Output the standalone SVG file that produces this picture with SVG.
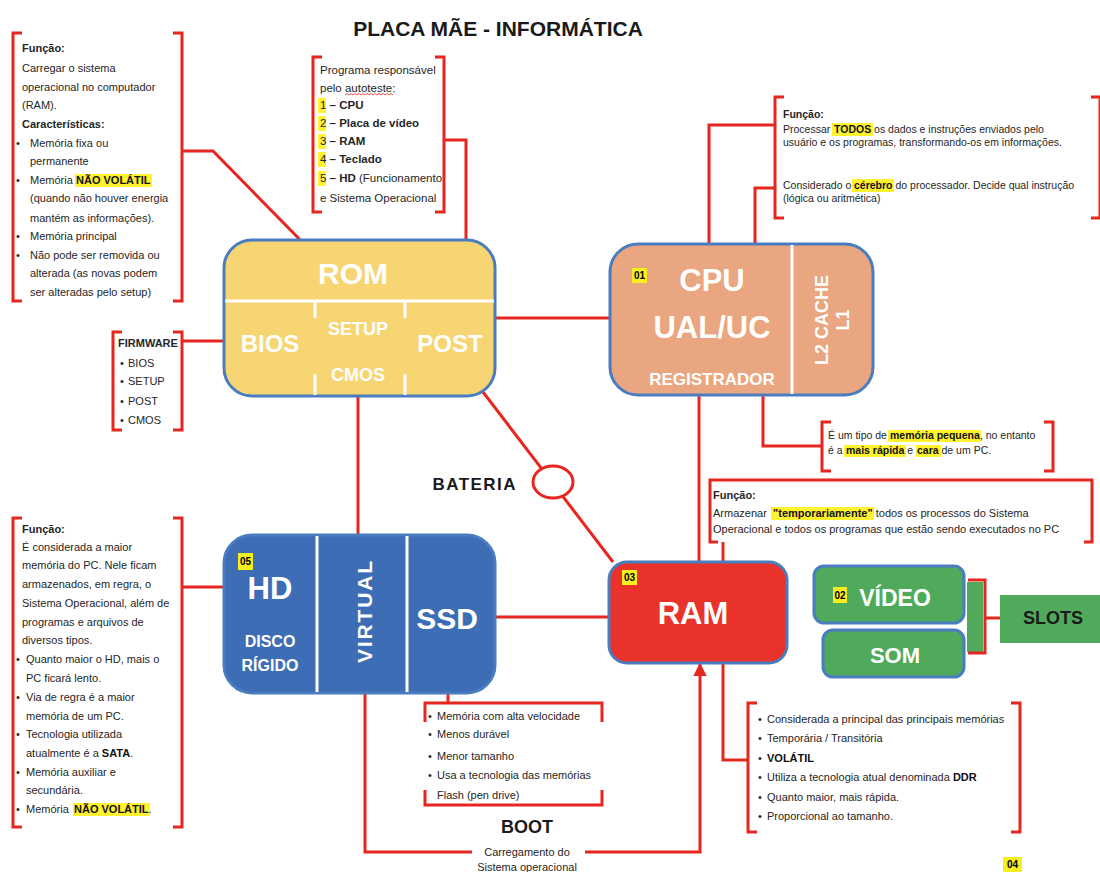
<svg xmlns="http://www.w3.org/2000/svg" width="1100" height="872" viewBox="0 0 1100 872">
<defs>
<style>
.t{font-family:"Liberation Sans",Arial,sans-serif;font-size:11px;fill:#262626}
.s{font-size:10.5px}
.p{font-size:11.5px}
.b{font-weight:bold}
.w{font-family:"Liberation Sans",Arial,sans-serif;font-weight:bold;fill:#fff;text-anchor:middle}
.lab{font-family:"Liberation Sans",Arial,sans-serif;font-weight:bold;font-size:10px;fill:#000;text-anchor:middle}
.k{font-family:"Liberation Sans",Arial,sans-serif;font-weight:bold;fill:#1a1a1a;text-anchor:middle}
.conn{stroke:#E6261F;stroke-width:3;fill:none}
.br{stroke:#E6261F;stroke-width:3;fill:none}
.hl{fill:#FFF22E}
.yl{fill:#F6EE1E}
.div{stroke:#fff;stroke-width:3;fill:none}
.node{stroke:#4A7DBF;stroke-width:3}
</style>
<marker id="arr" viewBox="0 0 10 10" refX="9" refY="5" markerWidth="4.5" markerHeight="4.5" orient="auto"><path d="M0,0 L10,5 L0,10 z" fill="#E6261F"/></marker>
</defs>
<rect width="1100" height="872" fill="#fff"/>
<text class="k" x="498" y="36" font-size="21">PLACA MÃE - INFORMÁTICA</text>

<g id="connectors">
<path class="conn" d="M182,151 H213 L317,257"/>
<path class="conn" d="M444,140 H466 V317"/>
<path class="conn" d="M775,125 H709 V258"/>
<path class="conn" d="M775,188 H755 V303"/>
<path class="conn" d="M182,341 H233"/>
<path class="conn" d="M495,318 H610"/>
<path class="conn" d="M358,396 V535"/>
<path class="conn" d="M483,392 L613,562"/>
<path class="conn" d="M699,395 V562"/>
<path class="conn" d="M763,395 V446 H822"/>
<path class="conn" d="M723,542 V562"/>
<path class="conn" d="M182,587 H239"/>
<path class="conn" d="M495,617 H609"/>
<path class="conn" d="M448,640 V703"/>
<path class="conn" d="M723,663 V760 H748"/>
<path class="conn" d="M365,693 V852 H472"/>
<path class="conn" d="M585,852 H700 V664" marker-end="url(#arr)"/>
<path class="conn" d="M985,618 H1000"/>
<ellipse cx="553" cy="482" rx="20" ry="16" fill="#fff" stroke="#E6261F" stroke-width="3"/>
</g>

<g id="rom-info">
<path class="br" d="M22,33 H13 V301 H22"/>
<path class="br" d="M173,33 H182 V301 H173"/>
<rect class="hl" x="75" y="174" width="77" height="13"/>
<text class="t b" x="22" y="52">Função:</text>
<text class="t" x="22" y="72">Carregar o sistema</text>
<text class="t" x="22" y="91">operacional no computador</text>
<text class="t" x="22" y="109">(RAM).</text>
<text class="t b" x="22" y="128">Características:</text>
<text class="t" y="147"><tspan x="16">•</tspan><tspan x="30">Memória fixa ou</tspan></text>
<text class="t" x="30" y="165">permanente</text>
<text class="t" y="184"><tspan x="16">•</tspan><tspan x="30">Memória</tspan><tspan x="76" font-weight="bold" fill="#111">NÃO VOLÁTIL</tspan></text>
<text class="t" x="30" y="202">(quando não houver energia</text>
<text class="t" x="30" y="222">mantém as informações).</text>
<text class="t" y="240"><tspan x="16">•</tspan><tspan x="30">Memória principal</tspan></text>
<text class="t" y="259"><tspan x="16">•</tspan><tspan x="30">Não pode ser removida ou</tspan></text>
<text class="t" x="30" y="277">alterada (as novas podem</text>
<text class="t" x="30" y="296">ser alteradas pelo setup)</text>
</g>

<g id="post-info">
<path class="br" d="M322,57 H313 V212 H322"/>
<path class="br" d="M435,57 H444 V212 H435"/>
<rect class="hl" x="318" y="98" width="8" height="15"/>
<rect class="hl" x="318" y="116" width="8" height="15"/>
<rect class="hl" x="318" y="134" width="8" height="15"/>
<rect class="hl" x="318" y="152" width="8" height="15"/>
<rect class="hl" x="318" y="171" width="8" height="15"/>
<text class="t p" x="320" y="74">Programa responsável</text>
<text class="t p" x="320" y="92">pelo autoteste:</text>
<path d="M345,95 l2,-1.5 l2,1.5 l2,-1.5 l2,1.5 l2,-1.5 l2,1.5 l2,-1.5 l2,1.5 l2,-1.5 l2,1.5 l2,-1.5 l2,1.5 l2,-1.5 l2,1.5 l2,-1.5 l2,1.5 l2,-1.5 l2,1.5 l2,-1.5 l2,1.5 l2,-1.5 l2,1.5 l2,-1.5 l2,1.5" fill="none" stroke="#E6261F" stroke-width="0.8"/>
<text class="t p" x="320" y="109">1<tspan font-weight="bold"> – CPU</tspan></text>
<text class="t p" x="320" y="127">2<tspan font-weight="bold"> – Placa de vídeo</tspan></text>
<text class="t p" x="320" y="145">3<tspan font-weight="bold"> – RAM</tspan></text>
<text class="t p" x="320" y="163">4<tspan font-weight="bold"> – Teclado</tspan></text>
<text class="t p" x="320" y="182">5<tspan font-weight="bold"> – HD</tspan> (Funcionamento</text>
<text class="t p" x="320" y="202">e Sistema Operacional</text>
</g>

<g id="cpu-info">
<path class="br" d="M784,97 H775 V218 H784"/>
<path class="br" d="M1091,97 H1100 V218 H1091"/>
<rect class="hl" x="832" y="123" width="41" height="13"/>
<rect class="hl" x="852" y="179" width="42" height="13"/>
<text class="t s b" x="783" y="118">Função:</text>
<text class="t s" y="133"><tspan x="783">Processar</tspan><tspan x="834" font-weight="bold" fill="#111">TODOS</tspan><tspan> os dados e instruções enviados pelo</tspan></text>
<text class="t s" x="783" y="146">usuário e os programas, transformando-os em informações.</text>
<text class="t s" y="189"><tspan x="783">Considerado o</tspan><tspan x="854" font-weight="bold" fill="#111">cérebro</tspan><tspan> do processador. Decide qual instrução</tspan></text>
<text class="t s" x="783" y="202">(lógica ou aritmética)</text>
</g>

<g id="firmware-info">
<path class="br" d="M122,332 H113 V430 H122"/>
<path class="br" d="M173,332 H182 V430 H173"/>
<text class="t b" x="118" y="347">FIRMWARE</text>
<text class="t" y="367"><tspan x="120">•</tspan><tspan x="128">BIOS</tspan></text>
<text class="t" y="385"><tspan x="120">•</tspan><tspan x="128">SETUP</tspan></text>
<text class="t" y="405"><tspan x="120">•</tspan><tspan x="128">POST</tspan></text>
<text class="t" y="424"><tspan x="120">•</tspan><tspan x="128">CMOS</tspan></text>
</g>

<g id="rom">
<rect class="node" x="224" y="240" width="271" height="156" rx="28" fill="#F7D572"/>
<path class="div" d="M225,301 H494 M315,301 V318 M315,374 V395 M405,301 V318 M405,374 V395"/>
<text class="w" x="353" y="284" font-size="30">ROM</text>
<text class="w" x="270" y="352" font-size="24">BIOS</text>
<text class="w" x="358" y="335" font-size="18">SETUP</text>
<text class="w" x="358" y="381" font-size="18">CMOS</text>
<text class="w" x="450" y="352" font-size="24">POST</text>
</g>

<g id="cpu">
<rect class="node" x="610" y="244" width="263" height="151" rx="28" fill="#EAA680"/>
<path class="div" d="M792,245 V394"/>
<rect class="yl" x="632" y="268" width="15" height="15"/>
<text class="lab" x="639.5" y="279">01</text>
<text class="w" x="712" y="291" font-size="31">CPU</text>
<text class="w" x="712" y="338" font-size="31">UAL/UC</text>
<text class="w" x="712" y="385" font-size="17">REGISTRADOR</text>
<text class="w" font-size="18" transform="translate(828,320) rotate(-90)">L2 CACHE</text>
<text class="w" font-size="18" transform="translate(849,320) rotate(-90)">L1</text>
</g>

<g id="cache-info">
<path class="br" d="M831,422 H822 V471 H831"/>
<path class="br" d="M1044,422 H1053 V471 H1044"/>
<rect class="hl" x="888" y="430" width="93" height="12"/>
<rect class="hl" x="844" y="445" width="62" height="12"/>
<rect class="hl" x="916" y="445" width="25" height="12"/>
<text class="t s" y="439"><tspan x="828">É um tipo de</tspan><tspan x="890" font-weight="bold" fill="#111">memória pequena</tspan><tspan>, no entanto</tspan></text>
<text class="t s" y="454"><tspan x="828">é a</tspan><tspan x="846" font-weight="bold" fill="#111">mais rápida</tspan><tspan> e</tspan><tspan x="917" font-weight="bold" fill="#111">cara</tspan><tspan> de um PC.</tspan></text>
</g>

<g id="bateria">
<text class="k" x="474" y="490" font-size="17" textLength="83">BATERIA</text>
</g>

<g id="ram-info">
<path class="br" d="M718,542 H710 V480 H1092 V542 H1084"/>
<rect class="hl" x="771" y="507" width="103" height="13"/>
<text class="t b" x="713" y="499">Função:</text>
<text class="t" y="517"><tspan x="713">Armazenar</tspan><tspan x="773" font-weight="bold" fill="#111">"temporariamente"</tspan><tspan> todos os processos do Sistema</tspan></text>
<text class="t" x="713" y="533">Operacional e todos os programas que estão sendo executados no PC</text>
</g>

<g id="hd-info">
<path class="br" d="M22,518 H13 V827 H22"/>
<path class="br" d="M173,518 H182 V827 H173"/>
<rect class="hl" x="73" y="803" width="77" height="13"/>
<text class="t b" x="22" y="533">Função:</text>
<text class="t" x="22" y="551">É considerada a maior</text>
<text class="t" x="22" y="569">memória do PC. Nele ficam</text>
<text class="t" x="22" y="588">armazenados, em regra, o</text>
<text class="t" x="22" y="607">Sistema Operacional, além de</text>
<text class="t" x="22" y="626">programas e arquivos de</text>
<text class="t" x="22" y="644">diversos tipos.</text>
<text class="t" y="663"><tspan x="16">•</tspan><tspan x="26">Quanto maior o HD, mais o</tspan></text>
<text class="t" x="26" y="682">PC ficará lento.</text>
<text class="t" y="701"><tspan x="16">•</tspan><tspan x="26">Via de regra é a maior</tspan></text>
<text class="t" x="26" y="720">memória de um PC.</text>
<text class="t" y="738"><tspan x="16">•</tspan><tspan x="26">Tecnologia utilizada</tspan></text>
<text class="t" x="26" y="757">atualmente é a <tspan font-weight="bold" fill="#111">SATA</tspan>.</text>
<text class="t" y="776"><tspan x="16">•</tspan><tspan x="26">Memória auxiliar e</tspan></text>
<text class="t" x="26" y="794">secundária.</text>
<text class="t" y="813"><tspan x="16">•</tspan><tspan x="26">Memória</tspan><tspan x="74" font-weight="bold" fill="#111">NÃO VOLÁTIL</tspan><tspan>.</tspan></text>
</g>

<g id="hd">
<rect class="node" x="224" y="535" width="271" height="158" rx="28" fill="#3D6DB4" stroke="#5A86C6"/>
<path class="div" d="M317,536 V692 M407,536 V692"/>
<rect class="yl" x="238" y="553" width="15" height="17"/>
<text class="lab" x="245.5" y="565">05</text>
<text class="w" x="270" y="599" font-size="31">HD</text>
<text class="w" x="270" y="647" font-size="16">DISCO</text>
<text class="w" x="270" y="671" font-size="16">RÍGIDO</text>
<text class="w" font-size="21" textLength="102" transform="translate(372,612) rotate(-90)">VIRTUAL</text>
<text class="w" x="447" y="629" font-size="30">SSD</text>
</g>

<g id="ssd-info">
<path class="br" d="M425,722 V703 H602 V722 M425,790 V805 H602 V790"/>
<text class="t" y="720"><tspan x="428">•</tspan><tspan x="437">Memória com alta velocidade</tspan></text>
<text class="t" y="738"><tspan x="428">•</tspan><tspan x="437">Menos durável</tspan></text>
<text class="t" y="760"><tspan x="428">•</tspan><tspan x="437">Menor tamanho</tspan></text>
<text class="t" y="779"><tspan x="428">•</tspan><tspan x="437">Usa a tecnologia das memórias</tspan></text>
<text class="t" x="437" y="799">Flash (pen drive)</text>
</g>

<g id="boot">
<text class="k" x="527" y="833" font-size="18">BOOT</text>
<text class="t" x="527" y="856" text-anchor="middle">Carregamento do</text>
<text class="t" x="527" y="871" text-anchor="middle">Sistema operacional</text>
</g>

<g id="ram">
<rect class="node" x="609" y="562" width="178" height="101" rx="18" fill="#E8322B"/>
<rect class="yl" x="622" y="570" width="15" height="15"/>
<text class="lab" x="629.5" y="581">03</text>
<text class="w" x="693" y="624" font-size="31">RAM</text>
</g>

<g id="ram-bullets">
<path class="br" d="M757,703 H748 V832 H757"/>
<path class="br" d="M1011,703 H1020 V832 H1011"/>
<text class="t" y="723"><tspan x="758">•</tspan><tspan x="767">Considerada a principal das principais memórias</tspan></text>
<text class="t" y="742"><tspan x="758">•</tspan><tspan x="767">Temporária / Transitória</tspan></text>
<text class="t" y="762"><tspan x="758">•</tspan><tspan x="767" font-weight="bold" fill="#111">VOLÁTIL</tspan></text>
<text class="t" y="781"><tspan x="758">•</tspan><tspan x="767">Utiliza a tecnologia atual denominada </tspan><tspan font-weight="bold" fill="#111">DDR</tspan></text>
<text class="t" y="801"><tspan x="758">•</tspan><tspan x="767">Quanto maior, mais rápida.</tspan></text>
<text class="t" y="820"><tspan x="758">•</tspan><tspan x="767">Proporcional ao tamanho.</tspan></text>
<rect class="yl" x="1003" y="857" width="19" height="15"/>
<text class="lab" x="1012.5" y="868" font-size="11">04</text>
</g>

<g id="video">
<rect class="node" x="814" y="566" width="150" height="57" rx="10" fill="#4FAB5B"/>
<rect class="yl" x="833" y="587" width="14" height="16"/>
<text class="lab" x="840" y="599">02</text>
<text class="w" x="895" y="606" font-size="23">VÍDEO</text>
</g>

<g id="som">
<rect class="node" x="823" y="630" width="141" height="47" rx="10" fill="#4FAB5B"/>
<text class="w" x="895" y="663" font-size="22">SOM</text>
</g>

<g id="slots">
<rect x="967" y="582" width="16" height="70" fill="#4FAB5B"/>
<path class="br" d="M968,580 H985 V653 H968"/>
<rect x="1000" y="595" width="100" height="48" fill="#4FAB5B"/>
<text class="k" x="1053" y="624" font-size="18" fill="#111">SLOTS</text>
</g>
</svg>
